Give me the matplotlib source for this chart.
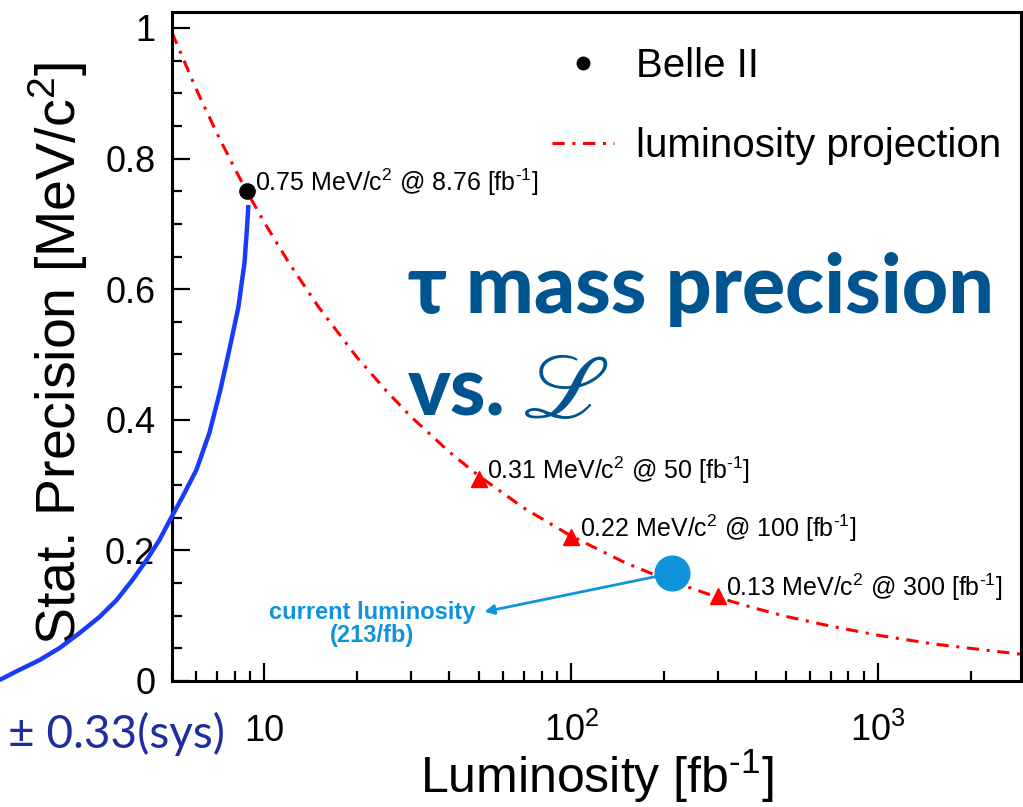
import matplotlib
matplotlib.use("Agg")
import matplotlib.pyplot as plt
from matplotlib.lines import Line2D
from matplotlib.ticker import MultipleLocator, FixedLocator, FixedFormatter, LogLocator, NullFormatter

plt.rcParams['font.family'] = ['Liberation Sans', 'DejaVu Sans']
plt.rcParams['mathtext.fontset'] = 'custom'
plt.rcParams['mathtext.rm'] = 'Liberation Sans'
plt.rcParams['mathtext.it'] = 'Liberation Sans:italic'
plt.rcParams['mathtext.bf'] = 'Liberation Sans:bold'

# measured point (Belle II)
belle_lumi = 8.76
belle_prec = 0.75

# projected statistical precision vs integrated luminosity
proj_lumi = [5, 6, 7, 8, 8.76, 10, 12, 15, 20, 25, 30, 40, 50, 70, 100,
             150, 200, 300, 400, 500, 700, 1000, 1500, 2000, 2920]
proj_prec = [0.993, 0.906, 0.839, 0.785, 0.750, 0.702, 0.641, 0.573, 0.496,
             0.444, 0.405, 0.351, 0.314, 0.265, 0.222, 0.181, 0.157, 0.128,
             0.111, 0.099, 0.084, 0.070, 0.057, 0.050, 0.041]

# milestones on the projection
target_lumi = [50, 100, 300]
target_prec = [0.31, 0.22, 0.13]

# where we are now
current_lumi = 213
current_prec = 0.165

# blue arc coming in from the left
arc_lumi = [1.37, 1.59, 1.85, 2.15, 2.50, 2.90, 3.30, 3.72, 4.13, 4.55,
            4.98, 5.41, 6.00, 6.62, 7.19, 7.75, 8.23, 8.61, 8.77, 8.87]
arc_prec = [0.0015, 0.017, 0.032, 0.0505, 0.0735, 0.098, 0.124, 0.155, 0.185,
            0.216, 0.251, 0.282, 0.323, 0.380, 0.446, 0.515, 0.573, 0.640,
            0.691, 0.729]

x_ticks = [10, 100, 1000]
x_ticklabels = ['10', r'10$^{2}$', r'10$^{3}$']

red = '#ff0000'
lightblue = '#0f94dc'
navy = '#00548f'
dashdot = (0, (4, 2.5, 1, 2.5))

fig = plt.figure(figsize=(10.23, 8.07), dpi=100)
ax = fig.add_axes([172/1023, 1-681/807, (1021-172)/1023, (681-12)/807])

ax.set_xscale('log')
ax.set_xlim(5, 2920)
ax.set_ylim(0, 1.0245)

ax.plot(proj_lumi, proj_prec, color=red, lw=2.2, ls=dashdot, zorder=2)
ax.plot(arc_lumi, arc_prec, color='#173cfa', lw=3.2, clip_on=False, zorder=3,
        solid_capstyle='butt', solid_joinstyle='round')
ax.plot(target_lumi, target_prec, ls='none', marker='^', ms=12, color=red, zorder=4)
ax.plot([belle_lumi], [belle_prec], ls='none', marker='o', ms=11, color='black', zorder=5)
ax.plot([current_lumi], [current_prec], ls='none', marker='o', ms=25,
        color=lightblue, zorder=6)

# value labels next to the points
for lumi, prec in zip([belle_lumi] + target_lumi, [belle_prec] + target_prec):
    ax.annotate(f'{prec:.2f} MeV/c$^{{2}}$ @ {lumi:g} [fb$^{{\\text{{-}}1}}$]',
                xy=(lumi, prec), xytext=(6, 0), textcoords='offset points',
                fontsize=18, va='baseline', ha='left', zorder=7)

# current luminosity callout
ax.annotate('', xy=(52.1, 0.106), xytext=(current_lumi, current_prec),
            arrowprops=dict(arrowstyle='-|>', color=lightblue, lw=2,
                            mutation_scale=14, shrinkA=0, shrinkB=0), zorder=5)
ax.text(22.5, 0.087, f'current luminosity\n({current_lumi}/fb)', color=lightblue,
        fontsize=17, fontweight='bold', ha='center', va='center',
        multialignment='center', linespacing=1.0)

# axes styling
for s in ax.spines.values():
    s.set_linewidth(2.2)
ax.yaxis.set_major_locator(MultipleLocator(0.2))
ax.yaxis.set_minor_locator(MultipleLocator(0.05))
ax.set_yticks([0, 0.2, 0.4, 0.6, 0.8, 1.0])
ax.set_yticklabels(['0', '0.2', '0.4', '0.6', '0.8', '1'])
ax.xaxis.set_major_locator(FixedLocator(x_ticks))
ax.xaxis.set_major_formatter(FixedFormatter(x_ticklabels))
ax.xaxis.set_minor_locator(LogLocator(base=10, subs=range(2, 10)))
ax.xaxis.set_minor_formatter(NullFormatter())
ax.tick_params(which='both', direction='in', top=False, right=False, width=1.6)
ax.tick_params(which='major', length=13)
ax.tick_params(which='minor', length=7)
ax.tick_params(axis='y', labelsize=26, pad=12)
ax.tick_params(axis='x', labelsize=26, pad=43)
for lbl in ax.get_xticklabels():
    lbl.set_verticalalignment('baseline')

ax.set_xlabel('Luminosity [fb$^{\\text{-}1}$]', fontsize=36)
ax.xaxis.set_label_coords(0.5, -0.100)
ax.set_ylabel('Stat. Precision [MeV/c$^{2}$]', fontsize=40)
ax.yaxis.set_label_coords(-0.097, 0.49)

legend_handles = [
    Line2D([], [], ls='none', marker='o', ms=9, color='black'),
    Line2D([], [], color=red, lw=2.2, ls=dashdot),
]
ax.legend(legend_handles, ['Belle II', 'luminosity projection'],
          loc='upper left', bbox_to_anchor=(0.447, 0.948), frameon=False,
          fontsize=29, handlelength=1.55, handletextpad=0.55,
          labelspacing=1.05, borderpad=0, borderaxespad=0)

# headline
fig.text(408/1023, 1-313/807, 'τ mass precision', fontsize=58,
         family=['Lato', 'DejaVu Sans'], fontweight='black', color=navy)
fig.text(408/1023, 1-416/807, 'vs.', fontsize=58,
         family=['Lato', 'DejaVu Sans'], fontweight='black', color=navy)
fig.text(522/1023, 1-418/807, 'ℒ', fontsize=66, family='STIXGeneral', color=navy)

fig.text(8/1023, 1-748/807, '± 0.33(sys)', fontsize=33,
         family=['Lato', 'DejaVu Sans'], color='#1f2e9c')

fig.savefig('out.png', dpi=100)
